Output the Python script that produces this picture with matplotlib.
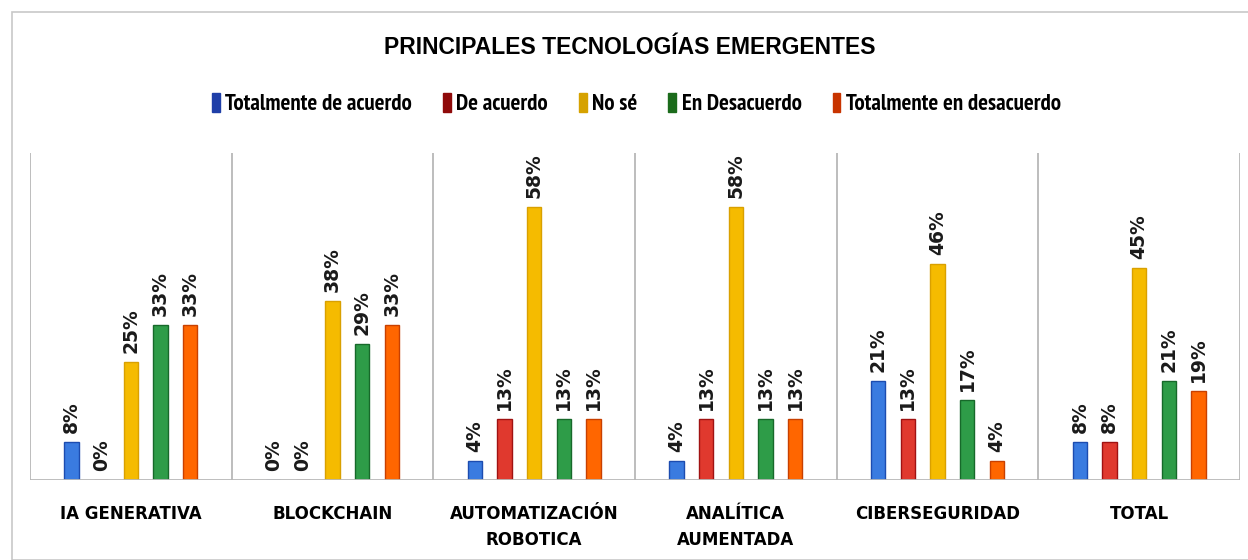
import matplotlib
matplotlib.use("Agg")
import matplotlib.pyplot as plt
from matplotlib.patches import Rectangle
import numpy as np

categories = ["IA GENERATIVA", "BLOCKCHAIN", "AUTOMATIZACIÓN\nROBOTICA",
              "ANALÍTICA\nAUMENTADA", "CIBERSEGURIDAD", "TOTAL"]
series = ["Totalmente de acuerdo", "De acuerdo", "No sé", "En Desacuerdo",
          "Totalmente en desacuerdo"]
values = {
    "Totalmente de acuerdo": [8, 0, 4, 4, 21, 8],
    "De acuerdo": [0, 0, 13, 13, 13, 8],
    "No sé": [25, 38, 58, 58, 46, 45],
    "En Desacuerdo": [33, 29, 13, 13, 17, 21],
    "Totalmente en desacuerdo": [33, 33, 13, 13, 4, 19],
}

bar_colors = ["#3a7be0", "#e0392e", "#f5bb00", "#2e9c48", "#ff6600"]
edge_colors = ["#1c4cb0", "#a01212", "#d9a000", "#17692a", "#c84000"]
legend_colors = ["#1f3fa8", "#8f0a0a", "#d6a200", "#1b6b1b", "#c83400"]

plt.rcParams["font.family"] = ["Liberation Sans", "DejaVu Sans"]

fig = plt.figure(figsize=(12.48, 5.6), dpi=100)
ax = fig.add_axes([30 / 1248, 80 / 560, (1240 - 30) / 1248, (480 - 153) / 560])

# outer frame
fig.patches.append(Rectangle((12 / 1248, 0), 1.2, (560 - 12) / 560,
                             transform=fig.transFigure, fill=False,
                             edgecolor="#c8c8c8", linewidth=1.2))

n = len(categories)
width = 0.072
step = 0.147
for k, s in enumerate(series):
    xs = np.arange(n) + 0.5 + (k - 2) * step
    vals = values[s]
    ax.bar(xs, vals, width=width, color=bar_colors[k],
           edgecolor=edge_colors[k], linewidth=1.0, zorder=3)
    for x, v in zip(xs, vals):
        ax.text(x, v + 1.9, f"{v}%", rotation=90, ha="center", va="bottom",
                fontsize=13.5, fontweight="bold", color="#1a1a1a",
                family="DejaVu Sans")

ax.set_xlim(0, n)
ax.set_ylim(0, 69.5)
for x in range(n + 1):
    ax.axvline(x, color="#b8b8b8", linewidth=1.3, zorder=1)
ax.axhline(0, color="#b8b8b8", linewidth=2, zorder=4)
for sp in ax.spines.values():
    sp.set_visible(False)
ax.set_yticks([])
ax.set_xticks(np.arange(n) + 0.5)
ax.set_xticklabels(categories, fontsize=12, fontweight="bold",
                   linespacing=1.55, family="DejaVu Sans")
ax.tick_params(axis="x", length=0, pad=18)
for lbl in ax.get_xticklabels():
    lbl.set_horizontalalignment("center")

fig.text(0.505, 1 - 47 / 560, "PRINCIPALES TECNOLOGÍAS EMERGENTES",
         ha="center", va="center", fontsize=16.5, fontweight="bold")

handles = [Rectangle((0, 0), 1, 1, facecolor=c, edgecolor=c)
           for c in legend_colors]
fig.legend(handles, series, loc="center", bbox_to_anchor=(0.51, 1 - 104 / 560),
           ncol=5, frameon=False, handlelength=0.33, handleheight=0.95,
           handletextpad=0.25, columnspacing=1.35,
           prop={"family": ["PT Sans Narrow", "Liberation Sans"],
                 "size": 16.5, "weight": "bold"})

fig.savefig("out.png", dpi=100)
